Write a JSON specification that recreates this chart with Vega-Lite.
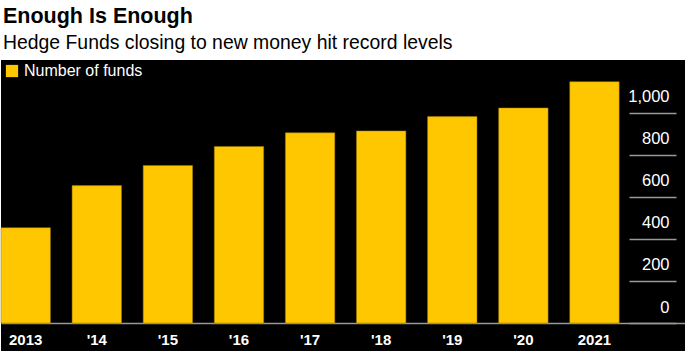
{
  "$schema": "https://vega.github.io/schema/vega-lite/v6.json",
  "width": 684,
  "height": 291,
  "padding": {"top": 6, "left": 0, "right": 0, "bottom": 0},
  "background": "white",
  "title": {
    "text": "Enough Is Enough",
    "subtitle": "Hedge Funds closing to new money hit record levels",
    "anchor": "start",
    "frame": "group",
    "font": "Liberation Sans",
    "fontSize": 21.5,
    "fontWeight": "bold",
    "color": "black",
    "subtitleFont": "Liberation Sans",
    "subtitleFontSize": 19.4,
    "subtitleColor": "black",
    "subtitlePadding": 6,
    "offset": 8,
    "dx": 2
  },
  "config": {
    "view": {"fill": "black", "stroke": null},
    "font": "Liberation Sans"
  },
  "data": {
    "values": [
      {"year": "2013", "funds": 453, "series": "Number of funds"},
      {"year": "'14", "funds": 653, "series": "Number of funds"},
      {"year": "'15", "funds": 749, "series": "Number of funds"},
      {"year": "'16", "funds": 839, "series": "Number of funds"},
      {"year": "'17", "funds": 904, "series": "Number of funds"},
      {"year": "'18", "funds": 913, "series": "Number of funds"},
      {"year": "'19", "funds": 981, "series": "Number of funds"},
      {"year": "'20", "funds": 1022, "series": "Number of funds"},
      {"year": "2021", "funds": 1147, "series": "Number of funds"}
    ]
  },
  "mark": {"type": "bar", "stroke": "#9a7a00", "strokeWidth": 0.5},
  "encoding": {
    "x": {
      "field": "year",
      "type": "nominal",
      "sort": null,
      "scale": {"paddingInner": 0.305, "paddingOuter": 0.463, "align": 0},
      "axis": {
        "title": null,
        "orient": "bottom",
        "offset": -28,
        "domainColor": "#999",
        "domainWidth": 1.5,
        "ticks": false,
        "labelAngle": 0,
        "labelColor": "white",
        "labelFontSize": 15,
        "labelFontWeight": "bold",
        "labelPadding": 9,
        "labelFont": "Liberation Sans"
      }
    },
    "y": {
      "field": "funds",
      "type": "quantitative",
      "scale": {"domain": [-133, 1250], "nice": false, "zero": false},
      "axis": {
        "title": null,
        "orient": "right",
        "offset": -56,
        "domain": false,
        "grid": false,
        "values": [0, 200, 400, 600, 800, 1000],
        "tickSize": 47,
        "tickColor": "#999",
        "tickWidth": 1.5,
        "labelColor": "white",
        "labelFontSize": 16.5,
        "labelPadding": -7,
        "labelAlign": "right",
        "labelBaseline": "alphabetic",
        "labelOffset": -11,
        "format": ",d"
      }
    },
    "color": {
      "field": "series",
      "type": "nominal",
      "scale": {"range": ["#FFC700"]},
      "legend": {
        "title": null,
        "orient": "top-left",
        "offset": 3,
        "symbolType": "square",
        "symbolSize": 150,
        "symbolStrokeWidth": 0,
        "labelColor": "white",
        "labelFontSize": 16,
        "labelFont": "Liberation Sans"
      }
    }
  }
}
